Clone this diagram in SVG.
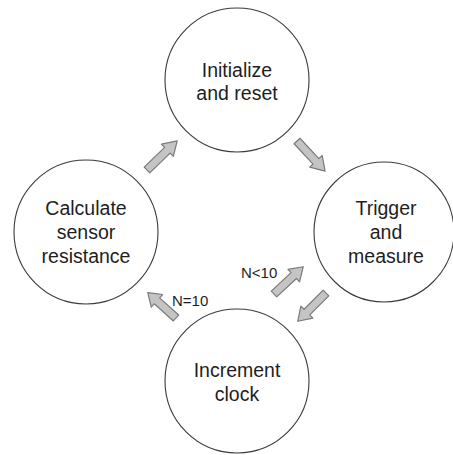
<svg xmlns="http://www.w3.org/2000/svg" xmlns:xlink="http://www.w3.org/1999/xlink" width="453" height="455" viewBox="0 0 453 455">
<style>
.node circle{fill:#ffffff;stroke:#3a3a3a;stroke-width:1.1}
.node text{font-family:"Liberation Sans","Open Sans",sans-serif;font-size:19.5px;fill:#1e1e1e;text-anchor:middle}
.arr{fill:#c4c4c4;stroke:#7a7a7a;stroke-width:1.2;stroke-linejoin:round}
.lbl{font-family:"Liberation Sans","Open Sans",sans-serif;font-size:15px;fill:#1e1e1e}
</style>
<defs>
<path id="blk" d="M0,-4 L27,-4 L27,-8.5 L40,0 L27,8.5 L27,4 L0,4 Z"/>
</defs>
<rect width="453" height="455" fill="#ffffff"/>
<g id="n-init" class="node">
<circle cx="237" cy="80" r="72"/>
<text x="237" y="77">Initialize</text>
<text x="237" y="100">and reset</text>
</g>
<g id="n-trigger" class="node">
<circle cx="384" cy="232" r="70"/>
<text x="386" y="215">Trigger</text>
<text x="386" y="239">and</text>
<text x="386" y="263">measure</text>
</g>
<g id="n-incr" class="node">
<circle cx="237" cy="381" r="72"/>
<text x="237" y="377">Increment</text>
<text x="237" y="401">clock</text>
</g>
<g id="n-calc" class="node">
<circle cx="86" cy="232" r="72"/>
<text x="86" y="215">Calculate</text>
<text x="86" y="239">sensor</text>
<text x="86" y="263">resistance</text>
</g>
<g id="connectors">
<use xlink:href="#blk" class="arr" transform="translate(147,170) rotate(-44) scale(1.05,1)"/>
<use xlink:href="#blk" class="arr" transform="translate(297,141) rotate(47) scale(1.03,1)"/>
<use xlink:href="#blk" class="arr" transform="translate(274,294) rotate(-43)"/>
<use xlink:href="#blk" class="arr" transform="translate(326,293) rotate(135)"/>
<use xlink:href="#blk" class="arr" transform="translate(176,318) rotate(-138) scale(0.95,1)"/>
<text class="lbl" x="241" y="278">N&lt;10</text>
<text class="lbl" x="172" y="306">N=10</text>
</g>
</svg>
